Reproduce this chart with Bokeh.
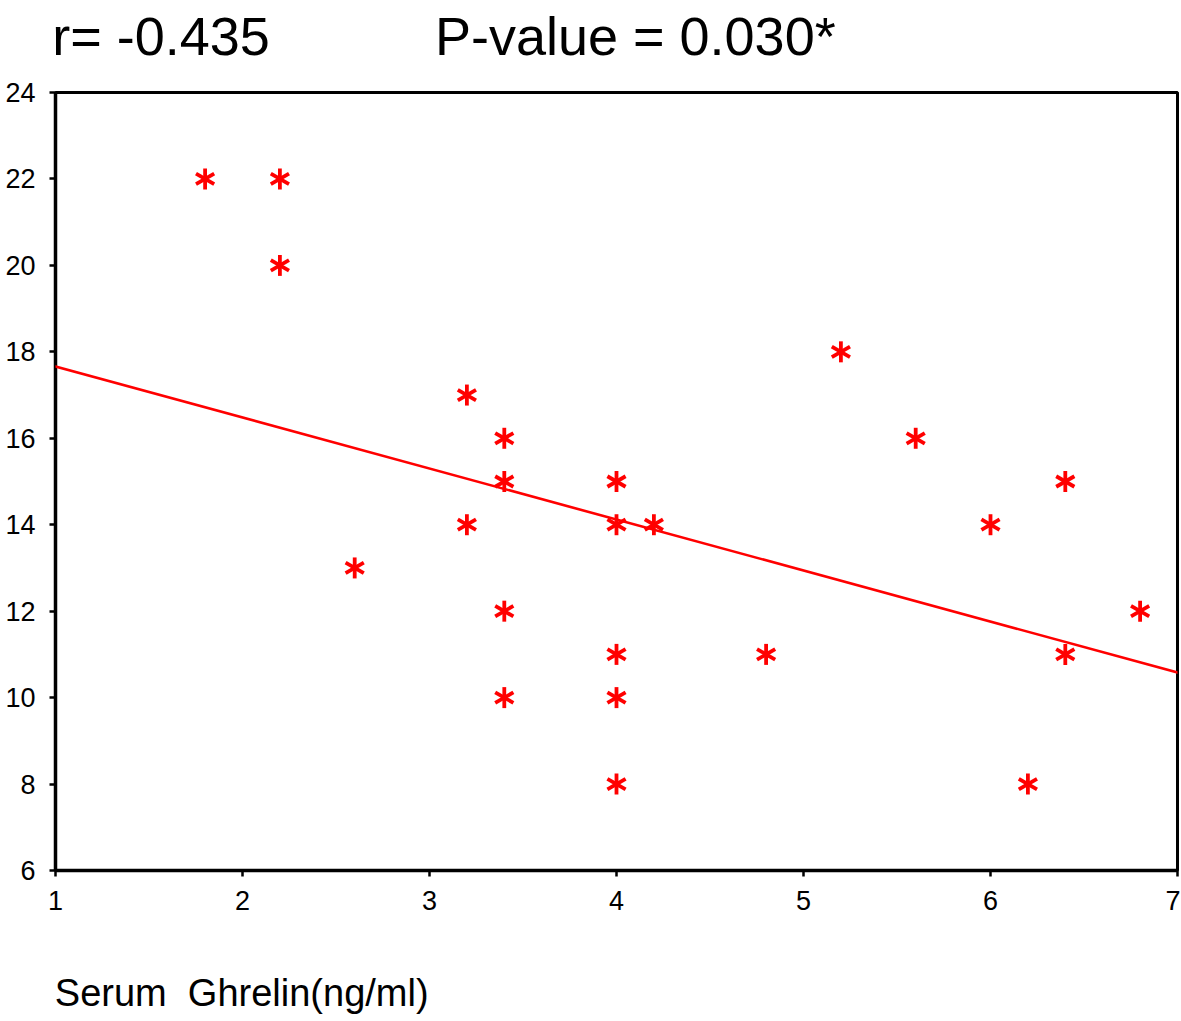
import math
from bokeh.plotting import figure
from bokeh.models import Range1d, FixedTicker, Slope, LinearAxis
from bokeh.embed import file_html
from bokeh.resources import INLINE

# ---- data ----
ghrelin = [1.8, 2.2, 2.2, 2.6, 3.2, 3.2, 3.4, 3.4, 3.4, 3.4,
           4.0, 4.0, 4.0, 4.0, 4.0, 4.2, 4.8, 5.2, 5.6, 6.0,
           6.2, 6.4, 6.4, 6.8]
values = [22, 22, 20, 13, 17, 14, 16, 15, 12, 10,
          15, 14, 11, 10, 8, 14, 11, 18, 16, 14,
          8, 15, 11, 12]
fit_slope = -1.18
fit_intercept = 18.84
x_ticks = [1, 2, 3, 4, 5, 6, 7]
y_ticks = [6, 8, 10, 12, 14, 16, 18, 20, 22, 24]
r_text = "r= -0.435"
p_text = "P-value = 0.030*"
x_title = "Serum\u00a0\u00a0Ghrelin(ng/ml)"

FONT = "Liberation Sans"
RED = "#ff0000"
NB = "\u00a0"

p = figure(frame_width=1122, frame_height=778,
           min_border_left=55, min_border_top=92, min_border_right=3,
           min_border_bottom=146,
           x_range=Range1d(1, 7), y_range=Range1d(6, 24),
           output_backend="svg", toolbar_location=None, tools="")

p.xgrid.visible = False
p.ygrid.visible = False
p.outline_line_color = "black"
p.outline_line_width = 3
p.background_fill_color = "white"
p.border_fill_color = "white"

for ax in (p.xaxis[0], p.yaxis[0]):
    ax.axis_line_width = 3.5
    ax.axis_line_color = "black"
    ax.major_tick_line_width = 2.5
    ax.major_tick_line_color = "black"
    ax.major_tick_out = 6
    ax.major_tick_in = 0
    ax.minor_tick_out = 0
    ax.minor_tick_in = 0
    ax.major_label_text_font = FONT
    ax.major_label_text_font_size = "27px"
    ax.major_label_text_color = "black"

p.xaxis[0].ticker = FixedTicker(ticks=x_ticks)
p.yaxis[0].ticker = FixedTicker(ticks=y_ticks)
p.xaxis[0].major_label_standoff = 14
p.yaxis[0].major_label_standoff = 14

# x axis title: centred axis label padded on the right so that it starts
# at the left edge of the frame, as in the reference
xa = p.xaxis[0]
xa.axis_label = x_title + NB * 71
xa.axis_label_text_font = FONT
xa.axis_label_text_font_size = "38px"
xa.axis_label_text_font_style = "normal"
xa.axis_label_text_color = "black"
xa.axis_label_standoff = 59

# statistics line above the frame, same technique on a bare top axis
top_ax = LinearAxis(ticker=FixedTicker(ticks=[]), axis_line_color=None,
                    major_tick_out=0, major_tick_in=0,
                    minor_tick_out=0, minor_tick_in=0,
                    major_label_text_font_size="1px",
                    axis_label=r_text + NB * 11 + p_text + NB * 23,
                    axis_label_text_font=FONT,
                    axis_label_text_font_size="54px",
                    axis_label_text_font_style="normal",
                    axis_label_text_color="black",
                    axis_label_standoff=27)
p.add_layout(top_ax, "above")

# regression line
p.add_layout(Slope(gradient=fit_slope, y_intercept=fit_intercept,
                   line_color=RED, line_width=2.6))

# six-pointed asterisk markers built from three rotated dashes
for ang in (90, 30, -30):
    p.scatter(ghrelin, values, marker="dash", size=21,
              angle=math.radians(ang), line_color=RED, line_width=3.8)

open("out.html", "w").write(file_html(p, INLINE))
